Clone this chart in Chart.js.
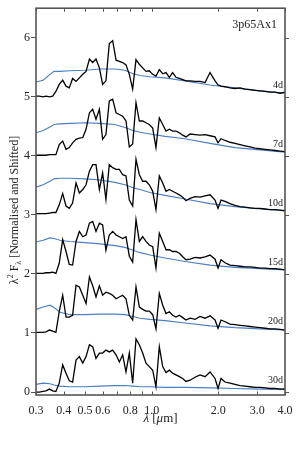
<!DOCTYPE html>
<html>
<head>
<meta charset="utf-8">
<script src="https://cdn.jsdelivr.net/npm/chart.js@4/dist/chart.umd.min.js"></script>
<style>
  body { margin: 0; background: #fff; }
  canvas { display: block; }
</style>
</head>
<body>
<canvas id="specChart" width="300" height="450"></canvas>
<script>
// wavelength grid of the model spectra (micron)
const lam = [0.300, 0.311, 0.322, 0.333, 0.345, 0.357, 0.369, 0.382, 0.396, 0.410,
  0.424, 0.439, 0.455, 0.471, 0.488, 0.505, 0.523, 0.541, 0.560, 0.580,
  0.600, 0.621, 0.643, 0.666, 0.690, 0.714, 0.739, 0.765, 0.792, 0.820,
  0.849, 0.879, 0.910, 0.942, 0.975, 1.010, 1.045, 1.082, 1.121, 1.160,
  1.201, 1.243, 1.287, 1.333, 1.380, 1.428,
  1.490, 1.569, 1.653, 1.741, 1.834, 1.932, 1.993, 2.056, 2.144, 2.258,
  2.378, 2.506, 2.639, 2.780, 2.929, 3.085, 3.250, 3.424, 3.607, 3.800, 4.000];

// lambda^2 F_lambda, normalised and shifted
const f4d = [5.01, 5.01, 5.00, 5.01, 5.00, 5.01, 5.09, 5.21, 5.28, 5.18,
  5.15, 5.31, 5.26, 5.32, 5.38, 5.43, 5.64, 5.58, 5.64, 5.49,
  5.21, 5.27, 5.90, 5.95, 5.62, 5.60, 5.58, 5.54, 5.38, 5.13,
  5.63, 5.55, 5.49, 5.43, 5.44, 5.38, 5.35, 5.46, 5.39, 5.41,
  5.33, 5.41, 5.33, 5.31, 5.29, 5.27,
  5.27, 5.26, 5.26, 5.24, 5.41, 5.27, 5.20, 5.18, 5.17, 5.15,
  5.14, 5.15, 5.13, 5.12, 5.11, 5.10, 5.09, 5.08, 5.08, 5.06, 5.08];
const f7d = [4.01, 4.01, 4.01, 4.01, 4.02, 4.02, 4.02, 4.19, 4.25, 4.11,
  4.14, 4.22, 4.28, 4.30, 4.31, 4.45, 4.73, 4.79, 4.62, 4.79,
  4.28, 4.36, 4.93, 4.96, 4.73, 4.70, 4.67, 4.59, 4.15, 4.20,
  4.90, 4.59, 4.59, 4.56, 4.53, 4.47, 4.14, 4.64, 4.53, 4.42,
  4.45, 4.42, 4.42, 4.39, 4.35, 4.32,
  4.37, 4.36, 4.35, 4.36, 4.34, 4.32, 4.22, 4.29, 4.26, 4.23,
  4.21, 4.19, 4.17, 4.15, 4.13, 4.12, 4.11, 4.10, 4.09, 4.08, 4.07];
const f10d = [3.02, 3.02, 3.02, 3.02, 3.03, 3.04, 3.04, 3.17, 3.36, 3.15,
  3.11, 3.20, 3.54, 3.37, 3.43, 3.51, 3.74, 3.85, 3.85, 3.43,
  3.71, 3.26, 3.85, 3.80, 3.77, 3.77, 3.68, 3.66, 3.25, 3.15,
  3.94, 3.68, 3.57, 3.57, 3.51, 3.40, 3.09, 3.66, 3.54, 3.40,
  3.43, 3.40, 3.37, 3.34, 3.30, 3.24,
  3.28, 3.31, 3.30, 3.32, 3.34, 3.25, 3.11, 3.25, 3.23, 3.19,
  3.16, 3.14, 3.13, 3.12, 3.11, 3.11, 3.10, 3.09, 3.09, 3.08, 3.07];
const f15d = [2.01, 2.01, 2.01, 2.02, 2.02, 2.03, 2.01, 2.18, 2.58, 2.38,
  2.16, 2.15, 2.55, 2.72, 2.63, 2.66, 2.86, 2.89, 2.72, 2.86,
  2.83, 2.40, 2.66, 2.72, 2.66, 2.63, 2.60, 2.63, 2.30, 2.20,
  2.92, 2.55, 2.63, 2.55, 2.49, 2.46, 2.10, 2.69, 2.55, 2.41,
  2.41, 2.38, 2.38, 2.35, 2.29, 2.24,
  2.25, 2.28, 2.27, 2.29, 2.32, 2.25, 2.10, 2.24, 2.19, 2.15,
  2.14, 2.13, 2.12, 2.12, 2.11, 2.10, 2.10, 2.09, 2.09, 2.08, 2.07];
const f20d = [1.01, 1.01, 1.01, 1.02, 1.05, 1.03, 1.01, 1.36, 1.64, 1.27,
  1.27, 1.30, 1.81, 1.78, 1.64, 1.50, 1.95, 1.80, 1.61, 1.80,
  1.64, 1.69, 1.67, 1.64, 1.58, 1.61, 1.64, 1.58, 1.30, 1.22,
  1.78, 1.44, 1.40, 1.37, 1.37, 1.31, 1.07, 1.67, 1.47, 1.33,
  1.36, 1.30, 1.27, 1.30, 1.26, 1.22,
  1.25, 1.23, 1.28, 1.25, 1.29, 1.22, 1.08, 1.22, 1.19, 1.15,
  1.14, 1.13, 1.12, 1.11, 1.10, 1.09, 1.08, 1.07, 1.07, 1.06, 1.05];
const f30d = [0.00, 0.00, 0.01, 0.02, 0.05, 0.02, 0.01, 0.15, 0.46, 0.32,
  0.19, 0.17, 0.54, 0.60, 0.49, 0.60, 0.80, 0.77, 0.57, 0.66,
  0.66, 0.71, 0.68, 0.71, 0.63, 0.51, 0.63, 0.34, 0.66, 0.15,
  0.90, 0.80, 0.66, 0.49, 0.43, 0.37, 0.09, 0.77, 0.43, 0.33,
  0.37, 0.32, 0.29, 0.26, 0.23, 0.18,
  0.20, 0.25, 0.29, 0.26, 0.34, 0.23, 0.06, 0.23, 0.17, 0.15,
  0.13, 0.11, 0.10, 0.09, 0.08, 0.08, 0.07, 0.06, 0.06, 0.05, 0.05];

// smooth comparison curves (blue)
const lamFit = [0.300, 0.323, 0.347, 0.362, 0.385, 0.427, 0.499, 0.584, 0.682, 0.757,
  0.823, 0.885, 0.982, 1.148, 1.414, 1.834, 2.378, 3.085, 4.000];
const b4d = [5.25, 5.28, 5.38, 5.43, 5.43, 5.44, 5.45, 5.47, 5.47, 5.45, 5.39, 5.36, 5.34, 5.32, 5.27, 5.20, 5.15, 5.10, 5.06];
const b7d = [4.39, 4.43, 4.49, 4.53, 4.54, 4.55, 4.56, 4.55, 4.53, 4.48, 4.43, 4.40, 4.37, 4.33, 4.29, 4.21, 4.14, 4.10, 4.06];
const b10d = [3.47, 3.51, 3.57, 3.61, 3.62, 3.62, 3.61, 3.59, 3.55, 3.51, 3.46, 3.43, 3.38, 3.33, 3.27, 3.19, 3.14, 3.10, 3.07];
const b15d = [2.54, 2.57, 2.61, 2.60, 2.57, 2.55, 2.53, 2.51, 2.48, 2.45, 2.40, 2.36, 2.32, 2.27, 2.21, 2.15, 2.11, 2.09, 2.07];
const b20d = [1.40, 1.44, 1.47, 1.43, 1.35, 1.31, 1.31, 1.32, 1.32, 1.31, 1.28, 1.25, 1.23, 1.21, 1.17, 1.12, 1.09, 1.07, 1.05];
const b30d = [0.13, 0.15, 0.14, 0.12, 0.10, 0.09, 0.09, 0.10, 0.11, 0.11, 0.10, 0.09, 0.09, 0.08, 0.08, 0.07, 0.06, 0.05, 0.05];

const epochs = ['4d', '7d', '10d', '15d', '20d', '30d'];
const shifts = [5, 4, 3, 2, 1, 0];
const model = '3p65Ax1';

const xTicks = [0.3, 0.4, 0.5, 0.6, 0.7, 0.8, 0.9, 1, 2, 3, 4];
const xTickLabels = ['0.3', '0.4', '0.5', '0.6', '', '0.8', '', '1.0', '2.0', '3.0', '4.0'];
const yTicks = [0, 1, 2, 3, 4, 5, 6];

const spectra = [f4d, f7d, f10d, f15d, f20d, f30d];
const fits = [b4d, b7d, b10d, b15d, b20d, b30d];

const SERIF = '"Liberation Serif", "DejaVu Serif", serif';
const AXIS = '#555';

function pts(xs, ys) {
    return xs.map((v, i) => ({ x: v, y: ys[i] }));
}

const datasets = [];
spectra.forEach((s, i) => {
    datasets.push({ label: epochs[i], data: pts(lam, s), borderColor: '#000', borderWidth: 1.3, order: 0 });
});
fits.forEach((b, i) => {
    datasets.push({ label: epochs[i] + ' fit', data: pts(lamFit, b), borderColor: '#4a7fc1', borderWidth: 1.15, order: 1 });
});

// frame, inner ticks, titles and epoch labels
const decor = {
    id: 'decor',
    afterDraw(chart) {
        const { ctx, chartArea: a, scales: { x, y } } = chart;
        ctx.save();
        ctx.strokeStyle = AXIS;
        ctx.lineWidth = 1.6;
        ctx.strokeRect(a.left, a.top, a.right - a.left, a.bottom - a.top);

        ctx.lineWidth = 1;
        ctx.beginPath();
        xTicks.forEach(v => {
            const px = Math.round(x.getPixelForValue(v)) + 0.5;
            ctx.moveTo(px, a.bottom); ctx.lineTo(px, a.bottom - 3.5);
            ctx.moveTo(px, a.top); ctx.lineTo(px, a.top + 3.5);
        });
        yTicks.forEach(v => {
            const py = Math.round(y.getPixelForValue(v)) + 0.5;
            ctx.moveTo(a.right, py); ctx.lineTo(a.right + 4, py);
        });
        ctx.stroke();

        ctx.fillStyle = '#222';
        ctx.textBaseline = 'middle';
        ctx.textAlign = 'right';
        ctx.font = '12px ' + SERIF;
        ctx.fillText(model, a.right - 8, a.top + 17);

        ctx.font = '10px ' + SERIF;
        epochs.forEach((e, i) => {
            ctx.fillText(e, a.right - 2, y.getPixelForValue(shifts[i] + 0.2));
        });

        // x title: lambda [mu m]
        ctx.textBaseline = 'alphabetic';
        ctx.textAlign = 'left';
        const partsX = [['italic 13px ', '\u03bb'], ['13px ', ' ['], ['italic 13px ', '\u03bc'], ['13px ', 'm]']];
        let wX = 0;
        partsX.forEach(p => { ctx.font = p[0] + SERIF; wX += ctx.measureText(p[1]).width; });
        let cx = (a.left + a.right) / 2 - wX / 2;
        partsX.forEach(p => {
            ctx.font = p[0] + SERIF;
            ctx.fillText(p[1], cx, 422);
            cx += ctx.measureText(p[1]).width;
        });

        // y title: lambda^2 F_lambda [Normalised and Shifted]
        const partsY = [['12px ', '\u03bb', 0], ['8px ', '2', -5], ['12px ', ' F', 0], ['8px ', '\u03bb', 3], ['12px ', ' [Normalised and Shifted]', 0]];
        let wY = 0;
        partsY.forEach(p => { ctx.font = p[0] + SERIF; wY += ctx.measureText(p[1]).width; });
        ctx.translate(18, 210);
        ctx.rotate(-Math.PI / 2);
        let cy = -wY / 2;
        partsY.forEach(p => {
            ctx.font = p[0] + SERIF;
            ctx.fillText(p[1], cy, p[2]);
            cy += ctx.measureText(p[1]).width;
        });
        ctx.restore();
    }
};

Chart.defaults.font.family = SERIF;
Chart.defaults.font.size = 12;
Chart.defaults.color = '#222';

const ctx = document.getElementById('specChart').getContext('2d');
new Chart(ctx, {
    type: 'line',
    data: { datasets: datasets },
    options: {
        responsive: false,
        animation: false,
        devicePixelRatio: 1,
        layout: { padding: { top: 8, right: 15, bottom: 25, left: 0 } },
        elements: { point: { radius: 0 }, line: { tension: 0 } },
        plugins: { legend: { display: false }, tooltip: { enabled: false } },
        scales: {
            x: {
                type: 'logarithmic',
                min: 0.3,
                max: 4,
                afterBuildTicks: s => { s.ticks = xTicks.map(v => ({ value: v })); },
                afterFit: s => { s.height = 30; },
                ticks: {
                    autoSkip: false,
                    maxRotation: 0,
                    padding: 1,
                    callback: (v, i) => xTickLabels[i]
                },
                grid: { display: false },
                border: { display: false }
            },
            y: {
                min: -0.05,
                max: 6.5,
                afterBuildTicks: s => { s.ticks = yTicks.map(v => ({ value: v })); },
                afterFit: s => { s.width = 36; },
                ticks: { padding: 1 },
                grid: { drawOnChartArea: false, drawTicks: true, tickLength: 5, color: AXIS },
                border: { display: false }
            }
        }
    },
    plugins: [decor]
});
</script>
</body>
</html>
